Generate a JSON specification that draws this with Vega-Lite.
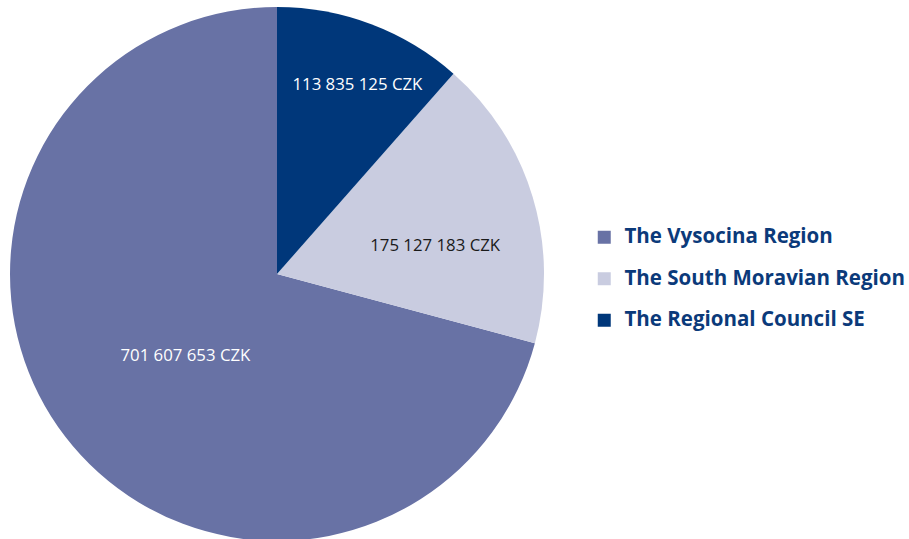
{
  "$schema": "https://vega.github.io/schema/vega-lite/v6.json",
  "width": 554,
  "height": 548,
  "padding": 0,
  "background": "white",
  "config": {"view": {"stroke": null}},
  "data": {"values": [
    {"region": "The Vysocina Region", "value": 701607653, "label": "701 607 653 CZK"},
    {"region": "The South Moravian Region", "value": 175127183, "label": "175 127 183 CZK"},
    {"region": "The Regional Council SE", "value": 113835125, "label": "113 835 125 CZK"}
  ]},
  "transform": [
    {"stack": "value", "groupby": [], "sort": [{"field": "value", "order": "ascending"}], "as": ["v0", "v1"]},
    {"calculate": "(datum.v0 + datum.v1) / 2", "as": "mid"}
  ],
  "layer": [
    {
      "mark": {"type": "arc", "outerRadius": 267},
      "encoding": {
        "theta": {"field": "v0", "type": "quantitative", "scale": {"domain": [0, 990569961]}},
        "theta2": {"field": "v1"},
        "color": {
          "field": "region", "type": "nominal",
          "scale": {"domain": ["The Vysocina Region", "The South Moravian Region", "The Regional Council SE"], "range": ["#6872a5", "#c9cce0", "#00377a"]},
          "legend": {
            "title": null, "orient": "none", "legendX": 594, "legendY": 227,
            "symbolType": "square", "symbolSize": 169, "symbolStrokeWidth": 0,
            "labelFont": "Open Sans", "labelFontWeight": "bold", "labelFontSize": 20.5, "labelColor": "#0b3a7a",
            "labelOffset": 10, "labelLimit": 400, "rowPadding": 20.5, "padding": 0, "offset": 0
          }
        }
      }
    },
    {
      "transform": [{"filter": "datum.region == 'The Regional Council SE'"}],
      "mark": {"type": "text", "radius": 205, "dx": 8, "dy": 3, "font": "Open Sans", "fontSize": 16.8, "color": "white", "align": "center", "baseline": "middle"},
      "encoding": {"theta": {"field": "mid", "type": "quantitative", "scale": {"domain": [0, 990569961]}}, "text": {"field": "label"}}
    },
    {
      "transform": [{"filter": "datum.region == 'The South Moravian Region'"}],
      "mark": {"type": "text", "radius": 160, "dx": 5, "dy": 18, "font": "Open Sans", "fontSize": 16.8, "color": "#1a1a1a", "align": "center", "baseline": "middle"},
      "encoding": {"theta": {"field": "mid", "type": "quantitative", "scale": {"domain": [0, 990569961]}}, "text": {"field": "label"}}
    },
    {
      "transform": [{"filter": "datum.region == 'The Vysocina Region'"}],
      "mark": {"type": "text", "radius": 123, "dx": 6, "dy": 7, "font": "Open Sans", "fontSize": 16.8, "color": "white", "align": "center", "baseline": "middle"},
      "encoding": {"theta": {"field": "mid", "type": "quantitative", "scale": {"domain": [0, 990569961]}}, "text": {"field": "label"}}
    }
  ]
}
